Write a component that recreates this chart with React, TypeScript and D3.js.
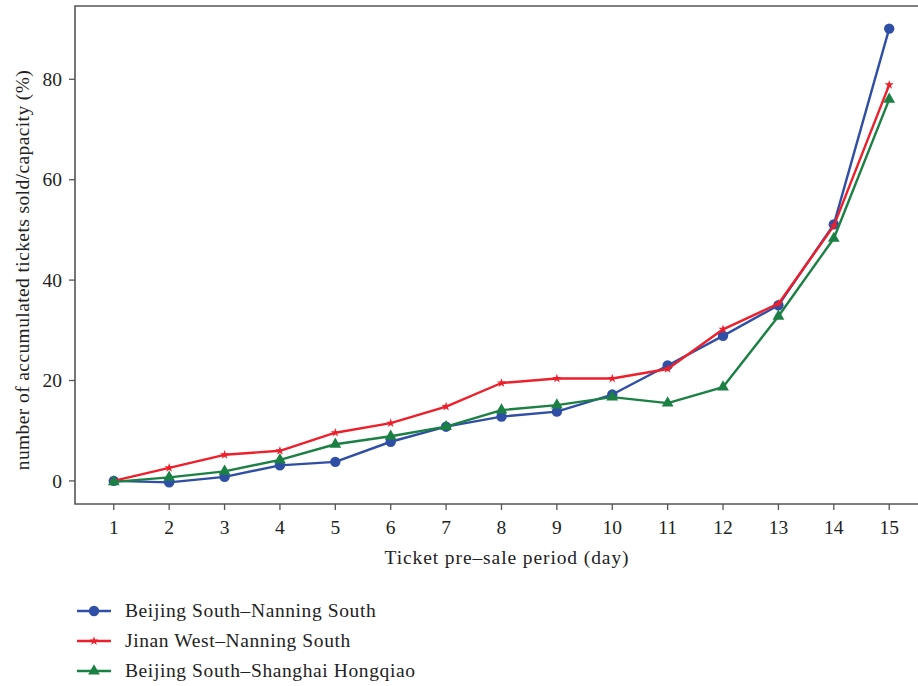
import React from "react";
import * as d3 from "d3";

const days = [1, 2, 3, 4, 5, 6, 7, 8, 9, 10, 11, 12, 13, 14, 15];
const beijingNanning = [0, -0.3, 0.8, 3.1, 3.8, 7.8, 10.8, 12.8, 13.8, 17.2, 23.0, 28.9, 35.0, 51.1, 90.1];
const jinanNanning = [0, 2.6, 5.2, 6.0, 9.6, 11.5, 14.8, 19.5, 20.4, 20.4, 22.3, 30.2, 35.3, 50.8, 78.9];
const beijingShanghai = [-0.2, 0.7, 1.9, 4.2, 7.3, 8.9, 10.8, 14.1, 15.1, 16.7, 15.5, 18.7, 32.8, 48.3, 76.0];
const yTicks = [0, 20, 40, 60, 80];

const seriesNames = [
  "Beijing South\u2013Nanning South",
  "Jinan West\u2013Nanning South",
  "Beijing South\u2013Shanghai Hongqiao",
];
const seriesValues = [beijingNanning, jinanNanning, beijingShanghai];
const colors = ["#2f4fa6", "#ee1f2a", "#1b8043"];

const W = 918;
const H = 686;
const FONT = "'Liberation Serif', 'DejaVu Serif', serif";

function drawChart(svgRef) {
  const svg = d3.select(svgRef.current);
  svg.selectAll("*").remove();
  svg.attr("width", W).attr("height", H);

  const left = 75, right = 918, top = 6, bottom = 504;

  const x = d3.scaleLinear().domain([0.3, 15.52]).range([left, right]);
  const y = d3.scaleLinear().domain([-4.6, 94.6]).range([bottom, top]);

  const symbols = [
    d3.symbol().type(d3.symbolCircle).size(85),
    d3.symbol().type(d3.symbolStar).size(26),
    d3.symbol().type(d3.symbolTriangle).size(60),
  ];

  const txt = sel => sel
    .attr("font-family", FONT).attr("font-size", 19.5)
    .attr("letter-spacing", 0.6).attr("fill", "#222");

  // frame (right side falls off the picture)
  svg.append("path")
    .attr("d", `M${right + 5},${top}H${left}V${bottom}H${right + 5}`)
    .attr("fill", "none")
    .attr("stroke", "#555")
    .attr("stroke-width", 1.6);

  // x ticks
  const gx = svg.append("g");
  days.forEach(d => {
    gx.append("line")
      .attr("x1", x(d)).attr("x2", x(d))
      .attr("y1", bottom).attr("y2", bottom + 6)
      .attr("stroke", "#555").attr("stroke-width", 1.3);
    gx.append("text")
      .attr("x", x(d)).attr("y", bottom + 30)
      .attr("text-anchor", "middle")
      .call(txt)
      .attr("letter-spacing", 0)
      .text(d);
  });

  // y ticks
  const gy = svg.append("g");
  yTicks.forEach(t => {
    gy.append("line")
      .attr("x1", left - 6).attr("x2", left)
      .attr("y1", y(t)).attr("y2", y(t))
      .attr("stroke", "#555").attr("stroke-width", 1.3);
    gy.append("text")
      .attr("x", left - 13).attr("y", y(t))
      .attr("dy", "0.34em")
      .attr("text-anchor", "end")
      .call(txt)
      .attr("letter-spacing", 0)
      .text(t);
  });

  // axis titles
  svg.append("text")
    .attr("x", 507).attr("y", 564)
    .attr("text-anchor", "middle")
    .call(txt)
    .attr("letter-spacing", 0.9)
    .text("Ticket pre\u2013sale period (day)");

  svg.append("text")
    .attr("transform", `translate(29,270) rotate(-90)`)
    .attr("text-anchor", "middle")
    .call(txt)
    .attr("letter-spacing", 0.4)
    .text("number of accumulated tickets sold/capacity (%)");

  const line = d3.line()
    .x((v, i) => x(days[i]))
    .y(v => y(v));

  seriesValues.forEach((vals, s) => {
    const g = svg.append("g");
    g.append("path")
      .datum(vals)
      .attr("fill", "none")
      .attr("stroke", colors[s])
      .attr("stroke-width", 2.4)
      .attr("stroke-linejoin", "round")
      .attr("d", line);
    g.selectAll("path.pt")
      .data(vals)
      .enter()
      .append("path")
      .attr("class", "pt")
      .attr("transform", (v, i) => `translate(${x(days[i])},${y(v)})`)
      .attr("d", symbols[s]())
      .attr("fill", colors[s]);
  });

  // legend
  const legY = [611, 641, 671];
  seriesNames.forEach((name, s) => {
    const g = svg.append("g").attr("transform", `translate(0,${legY[s]})`);
    g.append("line")
      .attr("x1", 77).attr("x2", 111)
      .attr("stroke", colors[s]).attr("stroke-width", 2.4);
    g.append("path")
      .attr("transform", `translate(94,0)`)
      .attr("d", symbols[s]())
      .attr("fill", colors[s]);
    g.append("text")
      .attr("x", 125).attr("y", 0).attr("dy", "0.3em")
      .call(txt)
      .text(name);
  });
}

const App = () => {
  const svg = React.useRef(null);

  React.useEffect(() => {
    drawChart(svg);
  }, [svg]);

  return (
    <div style={{ position: "absolute", left: 0, top: 0 }}>
      <svg ref={svg} style={{ display: "block", background: "#fff" }} />
    </div>
  );
};

export default App;
